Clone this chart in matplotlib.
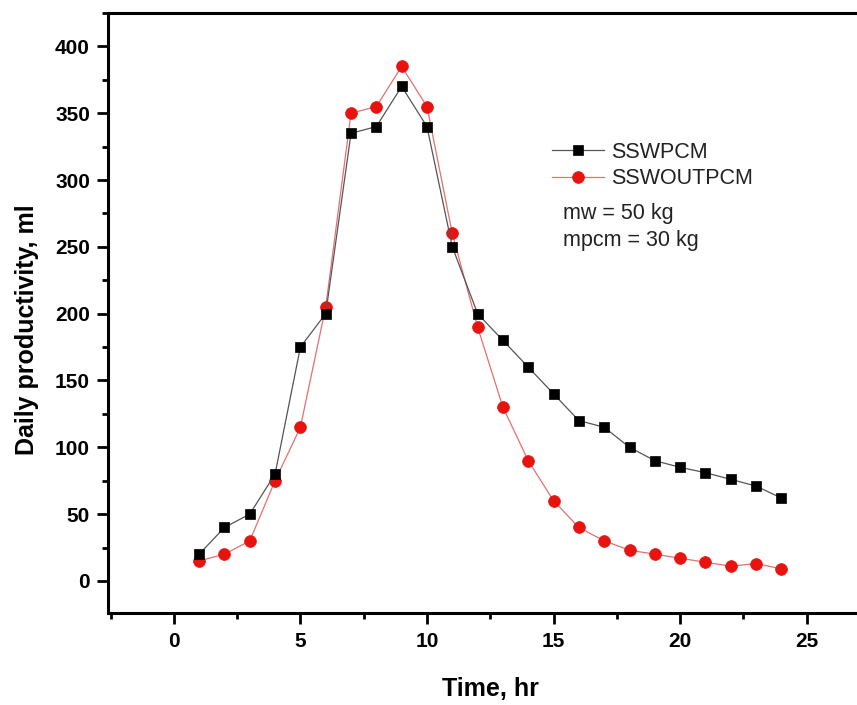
import matplotlib
matplotlib.use("Agg")
import matplotlib.pyplot as plt
from matplotlib.ticker import MultipleLocator

plt.rcParams['font.family'] = ['Liberation Sans', 'DejaVu Sans']

hours = list(range(1, 25))
sswpcm = [20, 40, 50, 80, 175, 200, 335, 340, 370, 340, 250, 200,
          180, 160, 140, 120, 115, 100, 90, 85, 81, 76, 71, 62]
sswoutpcm = [15, 20, 30, 75, 115, 205, 350, 355, 385, 355, 260, 190,
             130, 90, 60, 40, 30, 23, 20, 17, 14, 11, 13, 9]

W, H = 857, 705
fig = plt.figure(figsize=(W/100, H/100), dpi=100)
ax = fig.add_axes([108/W, 1-613/H, (870-108)/W, (613-13)/H])

ax.plot(hours, sswpcm, color='#555555', lw=0.9, marker='s', ms=7.5,
        mfc='black', mec='black', mew=0.5, label='SSWPCM', zorder=3)
ax.plot(hours, sswoutpcm, color='#e57070', lw=0.9, marker='o', ms=8.5,
        mfc='#e8130e', mec='#e8130e', mew=0.5, label='SSWOUTPCM', zorder=2)

ax.set_xlim(-2.6, 27.5)
ax.set_ylim(-24, 425)
ax.xaxis.set_major_locator(MultipleLocator(5))
ax.xaxis.set_minor_locator(MultipleLocator(2.5))
ax.yaxis.set_major_locator(MultipleLocator(50))
ax.yaxis.set_minor_locator(MultipleLocator(25))
ax.tick_params(which='major', direction='out', length=8, width=2,
               labelsize=15)
ax.tick_params(axis='x', which='major', pad=6)
ax.tick_params(axis='y', which='major', pad=5)
ax.tick_params(which='minor', direction='out', length=4, width=2)
for lbl in ax.get_xticklabels() + ax.get_yticklabels():
    lbl.set_fontweight('bold')
for s in ['left', 'bottom', 'top']:
    ax.spines[s].set_linewidth(2.2)
ax.spines['right'].set_visible(False)

fig.text(490/W, 1-689/H, 'Time, hr', fontsize=18, fontweight='bold',
         ha='center', va='center')
fig.text(27/W, 1-330/H, 'Daily productivity, ml', fontsize=18,
         fontweight='bold', rotation=90, ha='center', va='center')

ax.legend(loc='upper left', bbox_to_anchor=(552/W, 1-142/H),
          bbox_transform=fig.transFigure, frameon=False,
          fontsize=15.5, handlelength=2.4, handletextpad=0.35,
          labelspacing=0.25, borderpad=0, borderaxespad=0,
          labelcolor='#222222')
fig.text(563/W, 1-213/H, 'mw = 50 kg', fontsize=15.5, va='center',
         color='#222222')
fig.text(563/W, 1-240/H, 'mpcm = 30 kg', fontsize=15.5, va='center',
         color='#222222')

fig.savefig('out.png', dpi=100)
